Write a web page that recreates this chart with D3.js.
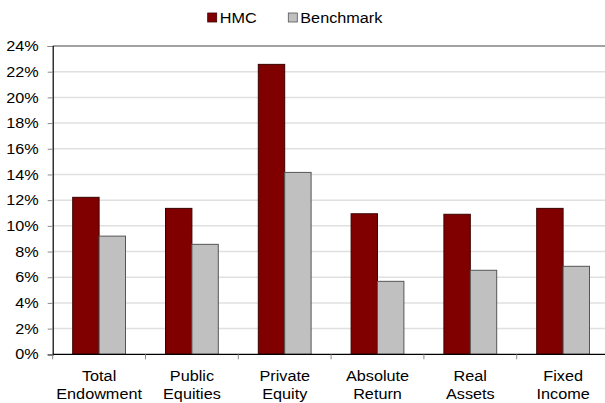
<!DOCTYPE html>
<html><head><meta charset="utf-8">
<script src="https://cdn.jsdelivr.net/npm/d3@7/dist/d3.min.js"></script>
<style>body{margin:0;background:#fff}svg{display:block}text{font-family:"Liberation Sans",Arial,sans-serif;}</style>
</head><body>
<svg id="c" width="605" height="403"></svg>
<script>
const categories = [["Total","Endowment"],["Public","Equities"],["Private","Equity"],["Absolute","Return"],["Real","Assets"],["Fixed","Income"]];
const seriesNames = ["HMC","Benchmark"];
const hmc = [12.22, 11.36, 22.57, 10.94, 10.9, 11.36];
const benchmark = [9.2, 8.56, 14.16, 5.68, 6.54, 6.85];
const yTicks = [0,2,4,6,8,10,12,14,16,18,20,22,24];
const colors = ["#800000","#c0c0c0"];

(function(){
const svg = d3.select("#c");
const FS = 14.5, SX = 1.12;
const pLeft = 52.7, pTop = 46, pBottom = 354.3, band = 92.8;
const pRight = pLeft + band*categories.length;
const x = d3.scaleBand().domain(d3.range(categories.length)).range([pLeft, pRight]).paddingInner(0).paddingOuter(0);
const x1 = d3.scaleBand().domain(seriesNames).range([20, band-20]);
const y = d3.scaleLinear().domain([0,24]).range([pBottom, pTop]);

// gridlines
svg.append("g").selectAll("line").data(yTicks.filter(t=>t>0 && t<24)).join("line")
  .attr("x1", pLeft).attr("x2", pRight).attr("y1", d=>y(d)).attr("y2", d=>y(d))
  .attr("stroke","#e0e0e0").attr("stroke-width",1.5);
// top border
svg.append("line").attr("x1",pLeft).attr("x2",pRight).attr("y1",y(24)).attr("y2",y(24)).attr("stroke","#444").attr("stroke-width",1);

// bars
const data = [hmc, benchmark];
const g = svg.append("g");
data.forEach((vals, si) => {
  g.selectAll(null).data(vals).join("rect")
    .attr("x", (d,i)=>x(i)+x1(seriesNames[si]))
    .attr("width", x1.bandwidth())
    .attr("y", d=>y(d))
    .attr("height", d=>pBottom-y(d))
    .attr("fill", colors[si])
    .attr("stroke", si===0 ? "#3a0000" : "#555")
    .attr("stroke-width", 1);
});

// y axis
const yAxis = d3.axisLeft(y).tickValues(yTicks).tickFormat(d=>d+"%").tickSize(5).tickPadding(7.5);
const ya = svg.append("g").attr("transform",`translate(${pLeft},0)`).call(yAxis);
ya.select(".domain").attr("stroke","#000").attr("stroke-width",1.2);
ya.selectAll(".tick line").attr("stroke","#888");
ya.selectAll("text").attr("font-size",FS).attr("fill","#000").attr("font-family","Liberation Sans, Arial, sans-serif")
  .attr("transform",`scale(${SX},1)`);

// x axis
svg.append("line").attr("x1",pLeft).attr("x2",pRight).attr("y1",pBottom).attr("y2",pBottom).attr("stroke","#000").attr("stroke-width",1.2);
svg.append("g").selectAll("line").data(d3.range(categories.length+1)).join("line")
  .attr("x1", i=>pLeft+i*band).attr("x2", i=>pLeft+i*band).attr("y1", pBottom).attr("y2", pBottom+5)
  .attr("stroke","#888");
const lbl = svg.append("g").selectAll("text").data(categories).join("text")
  .attr("transform",(d,i)=>`translate(${x(i)+band/2},381) scale(${SX},1)`)
  .attr("text-anchor","middle").attr("font-size",FS).attr("fill","#000");
lbl.append("tspan").attr("x",0).text(d=>d[0]);
lbl.append("tspan").attr("x",0).attr("dy",18).text(d=>d[1]);

// legend
const legX = [207.7, 288.3];
const leg = svg.append("g");
seriesNames.forEach((n,i)=>{
  leg.append("rect").attr("x",legX[i]).attr("y",13).attr("width",9).attr("height",9)
    .attr("fill",colors[i]).attr("stroke", i===0?"#3a0000":"#555").attr("stroke-width",0.8);
  leg.append("text").attr("transform",`translate(${legX[i]+12},22.5) scale(${SX},1)`)
    .attr("font-size",FS).attr("fill","#000").text(n);
});
})();
</script>
</body></html>
